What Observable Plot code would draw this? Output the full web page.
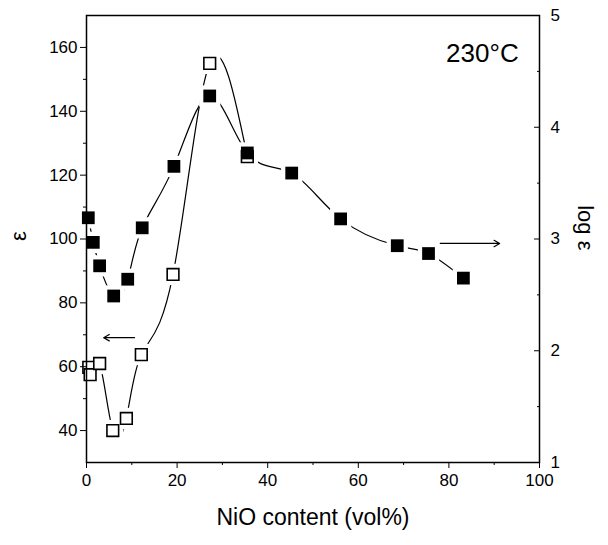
<!DOCTYPE html>
<html><head><meta charset="utf-8">
<script src="https://cdn.jsdelivr.net/npm/d3@7"></script>
<script src="https://cdn.jsdelivr.net/npm/@observablehq/plot@0.6"></script>
<style>body{margin:0;background:#fff}</style>
</head><body><div id="chart"></div>
<script>
// ---- data ----
const xTicks = [0, 20, 40, 60, 80, 100];
const xMinor = [10, 30, 50, 70, 90];
const epsTicks = [40, 60, 80, 100, 120, 140, 160];
const epsMinor = [50, 70, 90, 110, 130, 150];
const logTicks = [1, 2, 3, 4, 5];
const logMinor = [1.5, 2.5, 3.5, 4.5];

// filled squares: log ε (right axis)
const filledX   = [0.4, 1.5, 2.9, 6.0, 9.1, 12.3, 19.3, 27.2, 35.5, 45.3, 56.1, 68.6, 75.5, 83.2];
const filledLog = [3.19, 2.97, 2.76, 2.49, 2.64, 3.10, 3.65, 4.28, 3.77, 3.59, 3.18, 2.94, 2.87, 2.65];

// open squares: ε (left axis)
const openX   = [0.5, 0.8, 2.9, 5.8, 8.8, 12.1, 19.1, 27.2, 35.5];
const openEps = [59.8, 57.5, 61.0, 40.0, 43.8, 63.8, 88.9, 155.0, 125.8];

// arrows: [left arrow on ε axis, right arrow on log ε axis]
const arrowFromX = [10.6, 78.1];
const arrowToX   = [3.8, 91.2];
const arrowEps   = [69.1];
const arrowLog   = [2.96];

const tempLabel = "230°C";
const xTitle = "NiO content (vol%)";
const leftTitle = "ε";
const rightTitle = "log ε";

// ---- scales ----
const EPS_MIN = 30, EPS_MAX = 170, LOG_MIN = 1, LOG_MAX = 5;
const logToEps = v => EPS_MIN + (v - LOG_MIN) * (EPS_MAX - EPS_MIN) / (LOG_MAX - LOG_MIN);
const epsToLog = v => LOG_MIN + (v - EPS_MIN) * (LOG_MAX - LOG_MIN) / (EPS_MAX - EPS_MIN);

const filled = filledX.map((x, i) => ({x, y: logToEps(filledLog[i])}));
const open = openX.map((x, i) => ({x, y: openEps[i]}));
const arrows = [
  {x1: arrowFromX[0], x2: arrowToX[0], y: arrowEps[0]},
  {x1: arrowFromX[1], x2: arrowToX[1], y: logToEps(arrowLog[0])}
];

const chart = Plot.plot({
  width: 608, height: 545,
  marginLeft: 86, marginRight: 69, marginTop: 15, marginBottom: 83,
  style: {fontFamily: "'Liberation Sans', Arial, sans-serif", fontSize: "17px", color: "black", background: "white"},
  x: {domain: [0, 100]},
  y: {domain: [EPS_MIN, EPS_MAX]},
  marks: [
    Plot.line(open, {x: "x", y: "y", curve: "natural", stroke: "black", strokeWidth: 1.2}),
    Plot.line(filled, {x: "x", y: "y", curve: "natural", stroke: "black", strokeWidth: 1.2}),
    Plot.dot(open.concat(filled), {x: "x", y: "y", symbol: "square", r: 12, fill: "white", stroke: "none"}),
    Plot.dot(open, {x: "x", y: "y", symbol: "square", r: 6.6, fill: "white", stroke: "black", strokeWidth: 1.6}),
    Plot.dot(filled, {x: "x", y: "y", symbol: "square", r: 7.2, fill: "black", stroke: "none"}),
    Plot.arrow(arrows, {x1: "x1", x2: "x2", y1: "y", y2: "y", headLength: 8, strokeWidth: 1.2, stroke: "black"}),
    Plot.text([tempLabel], {x: 95.4, y: 158, text: d => d, textAnchor: "end", fontSize: 26}),
    Plot.frame({stroke: "black", strokeWidth: 1.5}),
    Plot.axisX({ticks: xTicks, tickSize: 6, tickPadding: 5, label: null}),
    Plot.axisX({ticks: xMinor, tickSize: 3, text: null, label: null}),
    Plot.axisY({ticks: epsTicks, tickSize: 6, tickPadding: 3, label: null}),
    Plot.axisY({ticks: epsMinor, tickSize: 3, text: null, label: null}),
    Plot.axisY({anchor: "right", ticks: logTicks.map(logToEps), tickFormat: v => String(Math.round(epsToLog(v))), tickSize: 0, tickPadding: 11, label: null}),
    Plot.axisY({anchor: "right", ticks: logTicks.map(logToEps), tickSize: -6, text: null, label: null}),
    Plot.axisY({anchor: "right", ticks: logMinor.map(logToEps), tickSize: -3, text: null, label: null}),
    Plot.text([xTitle], {frameAnchor: "bottom", text: d => d, dy: 62, fontSize: 23}),
    Plot.text([leftTitle], {frameAnchor: "left", text: d => d, dx: -68, dy: 2, rotate: -90, fontSize: 22}),
    Plot.text([rightTitle], {frameAnchor: "right", text: d => d, dx: 46, dy: 11.5, rotate: 90, fontSize: 22})
  ]
});
document.getElementById("chart").append(chart);
</script>
</body></html>
